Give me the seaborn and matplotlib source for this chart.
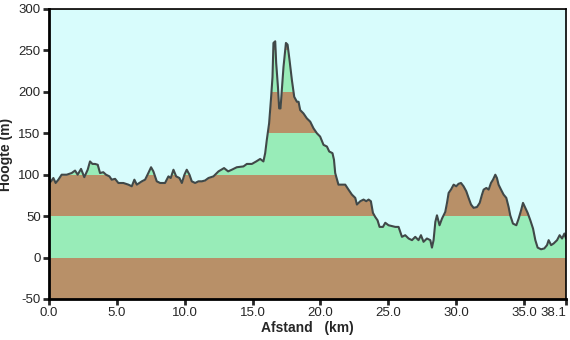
import numpy as np
import pandas as pd
import matplotlib
matplotlib.use("Agg")
import matplotlib.pyplot as plt
import seaborn as sns

# elevation profile (km, m)
afstand = [0.0, 0.15, 0.32, 0.49, 0.69, 0.93, 1.3, 1.67, 1.92, 2.11, 2.36, 2.6, 2.85,
           3.02, 3.2, 3.39, 3.59, 3.76, 4.0, 4.2, 4.45, 4.62, 4.87, 5.11, 5.48, 5.85,
           6.1, 6.29, 6.47, 6.84, 7.08, 7.32, 7.52, 7.69, 7.94, 8.19, 8.55, 8.8, 8.97,
           9.17, 9.37, 9.61, 9.79, 9.98, 10.15, 10.35, 10.52, 10.77, 11.01, 11.26, 11.5,
           11.75, 12.12, 12.49, 12.9, 13.2, 13.47, 13.84, 14.33, 14.58, 14.95, 15.27,
           15.56, 15.8, 15.93, 16.05, 16.22, 16.37, 16.47, 16.54, 16.67, 16.74, 16.87,
           16.96, 17.06, 17.16, 17.28, 17.46, 17.58, 17.72, 17.9, 18.07, 18.27, 18.39,
           18.51, 18.75, 19.0, 19.25, 19.49, 19.74, 19.98, 20.23, 20.48, 20.65, 20.89,
           21.0, 21.09, 21.33, 21.83, 22.07, 22.32, 22.57, 22.69, 22.94, 23.18, 23.38,
           23.55, 23.72, 23.87, 24.04, 24.21, 24.36, 24.61, 24.78, 25.02, 25.27, 25.52,
           25.76, 26.01, 26.25, 26.5, 26.75, 26.99, 27.23, 27.41, 27.6, 27.85, 28.1,
           28.22, 28.34, 28.47, 28.59, 28.78, 28.96, 29.2, 29.33, 29.45, 29.62, 29.82,
           30.01, 30.18, 30.36, 30.55, 30.75, 30.92, 31.1, 31.29, 31.54, 31.74, 31.91,
           32.03, 32.23, 32.4, 32.57, 32.72, 32.89, 33.01, 33.13, 33.31, 33.5, 33.7,
           33.87, 33.99, 34.19, 34.44, 34.61, 34.79, 34.93, 35.1, 35.27, 35.47, 35.67,
           35.84, 36.01, 36.26, 36.5, 36.7, 36.82, 37.0, 37.19, 37.44, 37.63, 37.81,
           37.98, 38.1]
hoogte = [90, 92, 96, 90, 94, 100, 100, 102, 105, 100, 107, 97, 106,
          116, 113, 113, 112, 102, 103, 100, 98, 94, 95, 90, 90, 88,
          86, 94, 88, 92, 94, 102, 109, 104, 92, 90, 90, 98, 96,
          106, 98, 96, 90, 100, 106, 100, 92, 90, 92, 92, 93,
          96, 98, 104, 108, 104, 106, 109, 110, 113, 113, 116,
          119, 116, 126, 142, 162, 194, 218, 259, 261, 235, 206,
          180, 180, 202, 230, 259, 257, 239, 214, 194, 188, 188,
          178, 174, 168, 164, 156, 150, 146, 136, 134, 128, 126,
          118, 102, 88, 88, 82, 76, 72, 64, 68, 70, 68,
          70, 68, 54, 49, 45, 37, 37, 42, 39, 38, 37,
          37, 25, 27, 23, 21, 25, 21, 27, 19, 23, 21,
          12, 21, 43, 51, 39, 47, 55, 66, 78, 82, 88,
          86, 89, 90, 86, 80, 72, 64, 60, 61, 66, 76,
          82, 84, 82, 90, 94, 100, 96, 88, 82, 76, 72,
          61, 51, 41, 39, 47, 57, 66, 60, 54, 45, 35,
          21, 12, 10, 11, 15, 21, 15, 17, 21, 27, 23,
          29, 23]

y_ticks = [-50, 0, 50, 100, 150, 200, 250, 300]
x_ticks = [0.0, 5.0, 10.0, 15.0, 20.0, 25.0, 30.0, 35.0, 38.1]

bg = "#d8fcfc"
brown = "#b89068"
green = "#98ecb8"

sns.set_style("white")
plt.rcParams["font.family"] = ["Liberation Sans", "DejaVu Sans"]
plt.rcParams["axes.unicode_minus"] = False

df = pd.DataFrame({"Afstand": afstand, "Hoogte": hoogte})

fig = plt.figure(figsize=(5.7, 3.4), dpi=100)
ax = fig.add_axes([0.086, 0.1206, 0.907, 0.853])

# alternating 50 m bands, then paint the sky back over them
for i, lo in enumerate(y_ticks[:-1]):
    ax.axhspan(lo, lo + 50, color=brown if i % 2 == 0 else green, lw=0, zorder=0)
ax.fill_between(df["Afstand"], df["Hoogte"], 300, color=bg, lw=0, zorder=1)

sns.lineplot(data=df, x="Afstand", y="Hoogte", color="#404848", lw=1.5, ax=ax, zorder=2)

ax.set_xlim(0, 38.1)
ax.set_ylim(-50, 300)
ax.set_xticks(x_ticks)
ax.set_xticklabels([f"{t:.1f}" for t in x_ticks])
ax.set_yticks(y_ticks)
ax.tick_params(axis="both", direction="out", length=4, width=2, labelsize=9.5,
               pad=2, bottom=True, left=True)
ax.get_xticklabels()[-1].set_horizontalalignment("right")
ax.get_xticklabels()[-1].set_x(38.1)
ax.set_xlabel("Afstand   (km)", fontsize=10, fontweight="bold", labelpad=1)
ax.set_ylabel("Hoogte (m)", fontsize=10, fontweight="bold", labelpad=2)
ax.yaxis.set_label_coords(-0.07, 0.5)

for side in ["left", "bottom"]:
    ax.spines[side].set_linewidth(2)
for side in ["top", "right"]:
    ax.spines[side].set_linewidth(1.2)
for s in ax.spines.values():
    s.set_color("black")
    s.set_zorder(5)

fig.savefig("out.png", dpi=100)
